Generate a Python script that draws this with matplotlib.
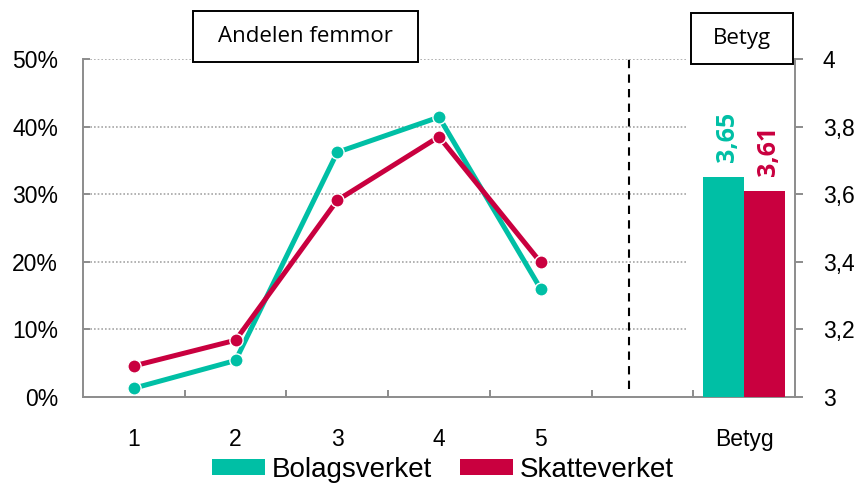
import matplotlib
matplotlib.use("Agg")
import matplotlib.pyplot as plt
from matplotlib.patches import Patch, Rectangle
from matplotlib.ticker import FuncFormatter, FixedLocator

# ---- data ----
categories = ['1', '2', '3', '4', '5']
bolagsverket_share = [1.3, 5.4, 36.2, 41.4, 16.0]   # percent
skatteverket_share = [4.6, 8.4, 29.1, 38.5, 19.9]   # percent
betyg_labels = ['Bolagsverket', 'Skatteverket']
betyg_values = [3.65, 3.61]
left_ticks = [0, 10, 20, 30, 40, 50]
right_ticks = [3.0, 3.2, 3.4, 3.6, 3.8, 4.0]

TEAL = '#00BFA5'
RED = '#C9003F'
GREY = '#8C8C8C'

W, H = 862, 487
fig = plt.figure(figsize=(W / 100, H / 100), dpi=100)
ax = fig.add_axes([83 / W, 1 - 397 / H, (795 - 83) / W, (397 - 59) / H])
ax2 = ax.twinx()

xpos = list(range(1, len(categories) + 1))
betyg_x = len(categories) + 2

# gridlines (left part only)
for t in left_ticks[1:]:
    ax.plot([0.5, 6.43], [t, t], color='#A6A6A6', lw=1.2,
            linestyle=(0, (1, 1.2)), zorder=1)

# dashed separator
ax.plot([5.87, 5.87], [1.2, 50], color='black', lw=1.5,
        linestyle=(0, (4, 3)), zorder=2)

ax.plot(xpos, bolagsverket_share, color=TEAL, lw=3.6, marker='o', ms=9.5,
        mfc=TEAL, mec='white', mew=1, zorder=4, solid_capstyle='butt')
ax.plot(xpos, skatteverket_share, color=RED, lw=3.6, marker='o', ms=9.5,
        mfc=RED, mec='white', mew=1, zorder=5, solid_capstyle='butt')

ax.set_xlim(0.5, 7.5)
ax.set_ylim(0, 50)
ax2.set_ylim(3, 4)

# bars on secondary axis
bw = 0.4
bar_cols = [TEAL, RED]
for i, (v, c) in enumerate(zip(betyg_values, bar_cols)):
    bx = betyg_x - bw / 2 + i * bw
    ax2.bar(bx, v - 3, bottom=3, width=bw, color=c, zorder=3)
    ax2.annotate(('%.2f' % v).replace('.', ','), xy=(bx + 0.04, v),
                 xytext=(0, 11), textcoords='offset points',
                 ha='center', va='bottom', rotation=90, color=c,
                 fontsize=18, fontweight='bold', family='Open Sans')

# spines
for a in (ax, ax2):
    a.spines['top'].set_visible(False)
    for s in ('left', 'right', 'bottom'):
        a.spines[s].set_color(GREY)
        a.spines[s].set_linewidth(1.4)
ax.spines['right'].set_visible(False)
ax2.spines['left'].set_visible(False)
ax2.spines['bottom'].set_visible(False)

# x ticks
ax.set_xticks(xpos + [betyg_x])
ax.set_xticklabels(categories + ['Betyg'])
ax.xaxis.set_minor_locator(FixedLocator([1.5, 2.5, 3.5, 4.5, 5.5, 6.5]))
ax.tick_params(axis='x', which='major', length=0, pad=22, labelsize=16.5,
               colors='black')
ax.tick_params(axis='x', which='minor', length=5, direction='in',
               color=GREY, width=1.4)

ax.set_yticks(left_ticks)
ax.yaxis.set_major_formatter(FuncFormatter(lambda v, p: '%d%%' % v))
ax.tick_params(axis='y', direction='in', length=5, color=GREY, width=1.4,
               pad=18, labelsize=16.5)

ax2.set_yticks(right_ticks)
ax2.yaxis.set_major_formatter(
    FuncFormatter(lambda v, p: ('%g' % v).replace('.', ',')))
ax2.tick_params(axis='y', direction='out', length=6, color=GREY, width=1.4,
                pad=14, labelsize=16.5)

for lab in ax.get_xticklabels() + ax.get_yticklabels() + ax2.get_yticklabels():
    lab.set_family('Liberation Sans')

# boxes
def box(x0, x1, y0, y1, text):
    r = Rectangle((x0 / W, 1 - y1 / H), (x1 - x0) / W, (y1 - y0) / H,
                  transform=fig.transFigure, facecolor='white',
                  edgecolor='black', lw=1.4, zorder=10)
    fig.add_artist(r)
    fig.text((x0 + x1) / 2 / W, 1 - (y0 + y1) / 2 / H, text,
             ha='center', va='center', fontsize=16, family='Open Sans',
             zorder=11)

box(193, 418, 11, 62, 'Andelen femmor')
box(691, 793, 13, 64, 'Betyg')

# legend
handles = [Patch(facecolor=TEAL, edgecolor='none'),
           Patch(facecolor=RED, edgecolor='none')]
leg = fig.legend(handles, betyg_labels, loc='center',
                 bbox_to_anchor=(443 / W, 1 - 470 / H), ncol=2, frameon=False,
                 prop={'family': 'Liberation Sans', 'size': 20},
                 handlelength=1.9, handleheight=0.5, handletextpad=0.25,
                 columnspacing=1.0, borderpad=0, borderaxespad=0)

fig.savefig('out.png', dpi=100)
